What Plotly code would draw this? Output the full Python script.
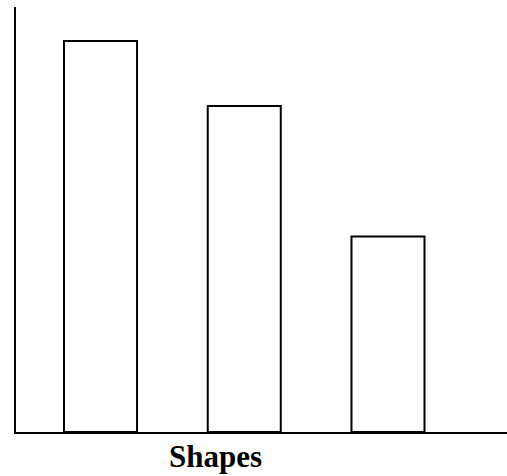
import plotly.graph_objects as go

categories = [0, 1, 2]
values = [6, 5, 3]
axis_title = "Shapes"

fig = go.Figure()
fig.add_trace(go.Bar(
    x=categories, y=values,
    marker=dict(color="white", line=dict(color="black", width=2)),
    width=0.508,
))

fig.update_layout(
    width=507, height=476,
    margin=dict(l=16, r=0, t=7, b=44),
    paper_bgcolor="white", plot_bgcolor="white",
    showlegend=False,
    xaxis=dict(range=[-0.588, 2.828], showline=True, linecolor="black", linewidth=2,
               showticklabels=False, ticks="", showgrid=False, zeroline=False),
    yaxis=dict(range=[0, 6.52], showline=True, linecolor="black", linewidth=2,
               showticklabels=False, ticks="", showgrid=False, zeroline=False),
    annotations=[dict(
        text="<b>" + axis_title + "</b>", xref="paper", yref="paper",
        x=0.406, y=-0.0588, xanchor="center", yanchor="middle", showarrow=False,
        font=dict(family="Liberation Serif", size=31, color="black"),
    )],
)

fig.write_html("out.html", config={"displayModeBar": False},
               post_script="document.body.style.margin='0';document.body.style.overflow='hidden';")
